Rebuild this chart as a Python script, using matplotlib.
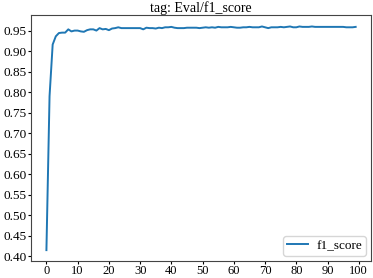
import matplotlib.pyplot as plt

plt.rcParams['font.family'] = 'Liberation Serif'
plt.rcParams['font.size'] = 9.5

# eval f1 per epoch
steps = list(range(100))
f1 = [0.415, 0.790, 0.916, 0.936, 0.944, 0.945, 0.945, 0.953, 0.948, 0.950,
      0.950, 0.948, 0.947, 0.951, 0.953, 0.953, 0.950, 0.956, 0.953, 0.954,
      0.951, 0.955, 0.956, 0.958, 0.956, 0.956, 0.956, 0.956, 0.956, 0.956,
      0.956, 0.953, 0.957, 0.956, 0.956, 0.955, 0.957, 0.956, 0.958, 0.958,
      0.959, 0.957, 0.956, 0.956, 0.956, 0.957, 0.957, 0.957, 0.957, 0.956,
      0.957, 0.958, 0.957, 0.958, 0.957, 0.959, 0.958, 0.958, 0.958, 0.959,
      0.958, 0.957, 0.957, 0.958, 0.958, 0.959, 0.958, 0.958, 0.958, 0.960,
      0.958, 0.956, 0.958, 0.958, 0.958, 0.959, 0.958, 0.959, 0.960, 0.958,
      0.958, 0.960, 0.959, 0.959, 0.959, 0.960, 0.959, 0.959, 0.959, 0.959,
      0.959, 0.959, 0.959, 0.959, 0.959, 0.959, 0.958, 0.958, 0.958, 0.959]

fig = plt.figure(figsize=(3.73, 2.78), dpi=100)
ax = fig.add_axes([0.083, 0.06, 0.912, 0.885])
ax.plot(steps, f1, label='f1_score', linewidth=1.4)
ax.set_xticks(range(0, 101, 10))
ax.set_yticks([0.40, 0.45, 0.50, 0.55, 0.60, 0.65, 0.70, 0.75, 0.80, 0.85, 0.90, 0.95])
ax.tick_params(length=2, pad=1)
ax.tick_params(axis='x', labelsize=9)
for s in ax.spines.values():
    s.set_color('#444444')
ax.set_title('tag: Eval/f1_score', fontsize=10, pad=2)
ax.legend(loc='lower right', borderaxespad=0.4, borderpad=0.3,
          handlelength=1.6, handletextpad=0.6)

fig.savefig('out.png', dpi=100)
